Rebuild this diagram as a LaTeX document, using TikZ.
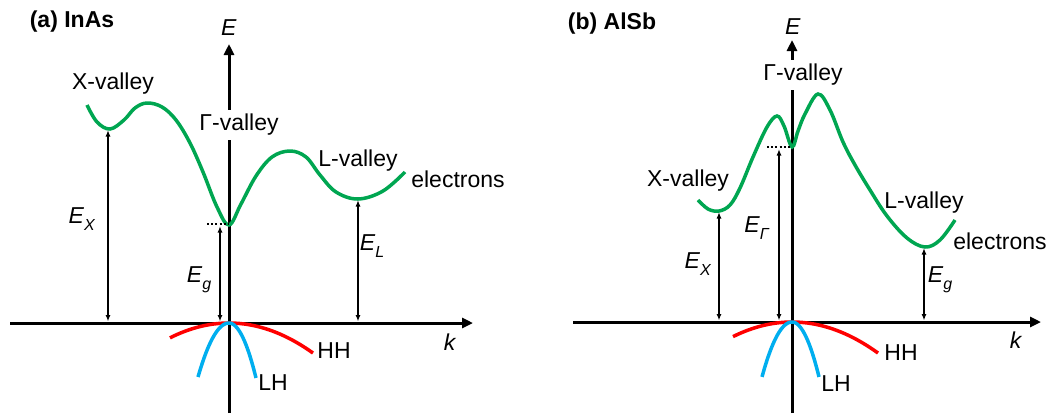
\documentclass[tikz,border=0pt]{standalone}
\usepackage{fontspec}
\setmainfont{Liberation Sans}
\usetikzlibrary{arrows.meta}
\definecolor{bandgreen}{RGB}{0,166,81}
\definecolor{bandred}{RGB}{255,0,0}
\definecolor{bandblue}{RGB}{0,174,239}
\newcommand{\sub}[1]{\raisebox{-0.3em}{\fontsize{16}{16}\selectfont\textit{#1}}}
\tikzset{
  lbl/.style={inner sep=0pt, font=\fontsize{23}{27}\selectfont},
  ttl/.style={inner sep=0pt, font=\fontsize{23}{27}\selectfont\bfseries},
  gap/.style={fill=white, inner sep=4pt, font=\fontsize{23}{27}\selectfont},
  axis/.style={line width=3pt, -{Triangle[length=11pt,width=10pt]}},
  dbl/.style={line width=1.4pt, {Latex[length=6.5pt,width=5pt]}-{Latex[length=6.5pt,width=5pt]}},
  cb/.style={bandgreen, line width=3.5pt},
  hh/.style={bandred, line width=3.5pt},
  lh/.style={bandblue, line width=3.5pt},
  dots/.style={line width=2pt, dash pattern=on 2pt off 2.2pt},
}
\begin{document}
\begin{tikzpicture}[x=1pt,y=-1pt]
\useasboundingbox (0,0) rectangle (1056,416);
% ================= (a) InAs =================
\node[ttl] (ta) at (72,22) {(a) InAs};
\coordinate (ak0) at (10,323);
\coordinate (ak1) at (473,323);
\coordinate (ae0) at (229,413);
\coordinate (ae1) at (229,44);
\draw[axis] (ak0) -- (ak1);
\draw[axis] (ae0) -- (ae1);
\node[lbl] (aE) at (229,28) {\textit{E}};
\node[lbl] (ak) at (450,342) {\textit{k}};
\node[gap] (aG) at (239,125) {Γ-valley};
% conduction band
\draw[cb] plot[smooth, tension=0.6] coordinates {(87,105) (97,122) (110,129) (124,120) (135,108) (147,103) (162,107) (176,120) (190,143) (203,172) (217,207) (229,225) (241,204) (256,176) (272,157) (290,151) (306,157) (320,175) (336,192) (358,199) (383,191) (405,172)};
% valence bands
\coordinate (atop) at (229,323);
\draw[hh] plot[domain=-59:84, samples=40] ({229+\x},{323+0.00425*\x*\x});
\draw[lh] plot[domain=-31:0, samples=20] ({229+\x},{323+0.0562*\x*\x}) -- plot[domain=0:27, samples=20] ({229+\x},{323+0.0754*\x*\x});
% labels
\node[lbl] (aX) at (113,84) {X-valley};
\node[lbl] (aL) at (358,161) {L-valley};
\node[lbl] (ael) at (458,179) {electrons};
\node[lbl] (aHH) at (334,351) {HH};
\node[lbl] (aLH) at (273,383) {LH};
% energy arrows
\coordinate (aXmin) at (108,130);
\coordinate (aXb) at (108,321.5);
\coordinate (aGmin) at (220,226);
\coordinate (aGb) at (220,321.5);
\coordinate (aLmin) at (358,200);
\coordinate (aLb) at (358,321.5);
\coordinate (adot0) at (207,224);
\coordinate (adot1) at (229,224);
\draw[dbl] (aXmin) -- (aXb);
\draw[dbl] (aGmin) -- (aGb);
\draw[dbl] (aLmin) -- (aLb);
\draw[dots] (adot0) -- (adot1);
\node[lbl] (aEX) at (82,219) {\textit{E}\sub{X}};
\node[lbl] (aEg) at (199,280) {\textit{E}\sub{g}};
\node[lbl] (aEL) at (372,246) {\textit{E}\sub{L}};
% ================= (b) AlSb =================
\node[ttl] (tb) at (612,24) {(b) AlSb};
\coordinate (bk0) at (573,322);
\coordinate (bk1) at (1041,322);
\coordinate (be0) at (792,413);
\coordinate (be1) at (792,40);
\draw[axis] (bk0) -- (bk1);
\draw[axis] (be0) -- (be1);
\node[lbl] (bE) at (793,27) {\textit{E}};
\node[lbl] (bk) at (1016,340) {\textit{k}};
\node[gap] (bG) at (803,75) {Γ-valley};
\draw[cb] plot[smooth, tension=0.6] coordinates {(698,200) (708,209) (719,211) (730,205) (740,188) (753,157) (767,127) (777,116) (784,126) (792,147) (798,131) (805,114) (818,94) (830,110) (843,142) (855,165) (870,190) (887,216) (907,238) (925,247) (940,240) (955,220)};
\coordinate (btop) at (792,322);
\draw[hh] plot[domain=-59:86, samples=40] ({792+\x},{322+0.0042*\x*\x});
\draw[lh] plot[domain=-30:0, samples=20] ({792+\x},{322+0.061*\x*\x}) -- plot[domain=0:27, samples=20] ({792+\x},{322+0.0754*\x*\x});
\node[lbl] (bX) at (688,181) {X-valley};
\node[lbl] (bL) at (924,203) {L-valley};
\node[lbl] (bel) at (1000,241) {electrons};
\node[lbl] (bHH) at (901,353) {HH};
\node[lbl] (bLH) at (836,384) {LH};
\coordinate (bXmin) at (719,212);
\coordinate (bXb) at (719,320.5);
\coordinate (bGmin) at (779,149);
\coordinate (bGb) at (779,320.5);
\coordinate (bgmin) at (924,248);
\coordinate (bgb) at (924,320.5);
\coordinate (bdot0) at (767,147);
\coordinate (bdot1) at (792,147);
\draw[dbl] (bXmin) -- (bXb);
\draw[dbl] (bGmin) -- (bGb);
\draw[dbl] (bgmin) -- (bgb);
\draw[dots] (bdot0) -- (bdot1);
\node[lbl] (bEG) at (757,228) {\textit{E}\sub{Γ}};
\node[lbl] (bEX) at (698,264) {\textit{E}\sub{X}};
\node[lbl] (bEg) at (940,280) {\textit{E}\sub{g}};
\end{tikzpicture}
\end{document}
